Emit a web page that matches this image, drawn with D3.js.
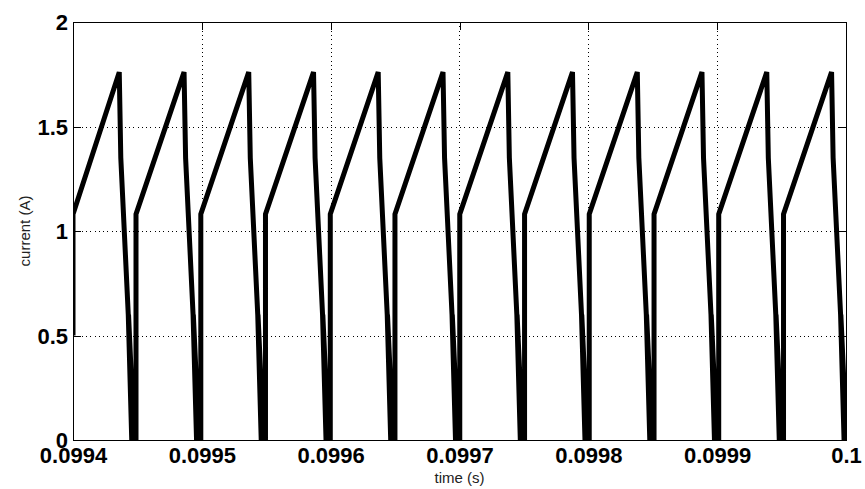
<!DOCTYPE html>
<html>
<head>
<meta charset="utf-8">
<script src="https://cdn.jsdelivr.net/npm/d3@7"></script>
<style>
  html, body { margin: 0; padding: 0; background: #fff; }
  svg { display: block; }
</style>
</head>
<body>
<svg id="chart" width="865" height="489"></svg>
<script>
// time in microseconds after t = 0.0994 s
const tStart = 0.0994;
const timeUs = [
  0.0, 0.0,
  35.9, 37.1, 42.9, 45.6, 43.1, 47.5, 48.9, 48.9,
  86.2, 87.4, 93.2, 95.9, 93.4, 97.8, 99.2, 99.2,
  136.4, 137.6, 143.4, 146.1, 143.6, 148.0, 149.4, 149.4,
  186.7, 187.9, 193.7, 196.4, 193.9, 198.3, 199.7, 199.7,
  236.9, 238.1, 243.9, 246.6, 244.1, 248.5, 249.9, 249.9,
  287.2, 288.4, 294.2, 296.9, 294.4, 298.8, 300.2, 300.2,
  337.5, 338.7, 344.5, 347.2, 344.7, 349.1, 350.5, 350.5,
  387.7, 388.9, 394.7, 397.4, 394.9, 399.3, 400.7, 400.7,
  438.0, 439.2, 445.0, 447.7, 445.2, 449.6, 451.0, 451.0,
  488.2, 489.4, 495.2, 497.9, 495.4, 499.8, 501.2, 501.2,
  538.5, 539.7, 545.5, 548.2, 545.7, 550.1, 551.5, 551.5,
  588.8, 590.0, 595.8, 598.5, 596.0, 600.4
];
const currentA = [
  0.50, 1.08,
  1.76, 1.35, 0.60, 0.00, 0.60, 0.00, 0.00, 1.08,
  1.76, 1.35, 0.60, 0.00, 0.60, 0.00, 0.00, 1.08,
  1.76, 1.35, 0.60, 0.00, 0.60, 0.00, 0.00, 1.08,
  1.76, 1.35, 0.60, 0.00, 0.60, 0.00, 0.00, 1.08,
  1.76, 1.35, 0.60, 0.00, 0.60, 0.00, 0.00, 1.08,
  1.76, 1.35, 0.60, 0.00, 0.60, 0.00, 0.00, 1.08,
  1.76, 1.35, 0.60, 0.00, 0.60, 0.00, 0.00, 1.08,
  1.76, 1.35, 0.60, 0.00, 0.60, 0.00, 0.00, 1.08,
  1.76, 1.35, 0.60, 0.00, 0.60, 0.00, 0.00, 1.08,
  1.76, 1.35, 0.60, 0.00, 0.60, 0.00, 0.00, 1.08,
  1.76, 1.35, 0.60, 0.00, 0.60, 0.00, 0.00, 1.08,
  1.76, 1.35, 0.60, 0.00, 0.60, 0.00
];
const xTicks = [0.0994, 0.0995, 0.0996, 0.0997, 0.0998, 0.0999, 0.1];
const xTickLabels = ["0.0994", "0.0995", "0.0996", "0.0997", "0.0998", "0.0999", "0.1"];
const yTicks = [0, 0.5, 1, 1.5, 2];
const yTickLabels = ["0", "0.5", "1", "1.5", "2"];
const xLabel = "time (s)";
const yLabel = "current (A)";

const data = timeUs.map((t, i) => ({ t: tStart + t * 1e-6, v: currentA[i] }));

const svg = d3.select("#chart");
const L = 73, R = 846, T = 22, B = 440;

const x = d3.scaleLinear().domain([0.0994, 0.1]).range([L, R]);
const y = d3.scaleLinear().domain([0, 2]).range([B, T]);

// grid
const grid = svg.append("g").attr("stroke", "#000").attr("stroke-width", 1)
  .attr("stroke-dasharray", "1,3.3").attr("shape-rendering", "crispEdges");
grid.selectAll(".gx").data(xTicks.slice(1, -1)).join("line")
  .attr("x1", d => Math.round(x(d)) + 0.5).attr("x2", d => Math.round(x(d)) + 0.5)
  .attr("y1", T).attr("y2", B);
grid.selectAll(".gy").data(yTicks.slice(1, -1)).join("line")
  .attr("y1", d => Math.round(y(d)) + 0.5).attr("y2", d => Math.round(y(d)) + 0.5)
  .attr("x1", L).attr("x2", R);

// clip
svg.append("clipPath").attr("id", "clip").append("rect")
  .attr("x", L).attr("y", T - 5).attr("width", R - L).attr("height", B - T + 5);

const line = d3.line().x(d => x(d.t)).y(d => y(d.v));
svg.append("path").datum(data)
  .attr("clip-path", "url(#clip)")
  .attr("d", line)
  .attr("fill", "none").attr("stroke", "#000")
  .attr("stroke-width", 5).attr("stroke-linejoin", "miter").attr("stroke-miterlimit", 3);

// axes box with inward ticks
const fmtX = (d, i) => xTickLabels[i];
const fmtY = (d, i) => yTickLabels[i];
const fontBold = "bold 22px 'Liberation Sans', Arial, sans-serif";

const axB = svg.append("g").attr("transform", `translate(0,${B})`)
  .call(d3.axisBottom(x).tickValues(xTicks).tickFormat(fmtX).tickSizeInner(-8).tickSizeOuter(0).tickPadding(10));
const axT = svg.append("g").attr("transform", `translate(0,${T})`)
  .call(d3.axisTop(x).tickValues(xTicks).tickFormat("").tickSizeInner(-8).tickSizeOuter(0));
const axL = svg.append("g").attr("transform", `translate(${L},0)`)
  .call(d3.axisLeft(y).tickValues(yTicks).tickFormat(fmtY).tickSizeInner(-8).tickSizeOuter(0).tickPadding(5));
const axR = svg.append("g").attr("transform", `translate(${R},0)`)
  .call(d3.axisRight(y).tickValues(yTicks).tickFormat("").tickSizeInner(-8).tickSizeOuter(0));

[axB, axT, axL, axR].forEach(a => {
  a.selectAll("path").attr("stroke", "#000").attr("stroke-width", 1).attr("shape-rendering", "crispEdges");
  a.selectAll("line").attr("stroke", "#000").attr("stroke-width", 1).attr("shape-rendering", "crispEdges");
  a.selectAll("text").style("font", fontBold).attr("fill", "#000");
});
axB.selectAll("text").attr("dy", "0.6em");
axL.selectAll("text").attr("dy", "0.35em");

// axis titles
svg.append("text").attr("x", (L + R) / 2).attr("y", 483)
  .attr("text-anchor", "middle")
  .style("font", "15px 'Liberation Sans', Arial, sans-serif").attr("fill", "#222")
  .text(xLabel);
svg.append("text")
  .attr("transform", `translate(30,${(T + B) / 2}) rotate(-90)`)
  .attr("text-anchor", "middle")
  .style("font", "15px 'Liberation Sans', Arial, sans-serif").attr("fill", "#222")
  .text(yLabel);
</script>
</body>
</html>
